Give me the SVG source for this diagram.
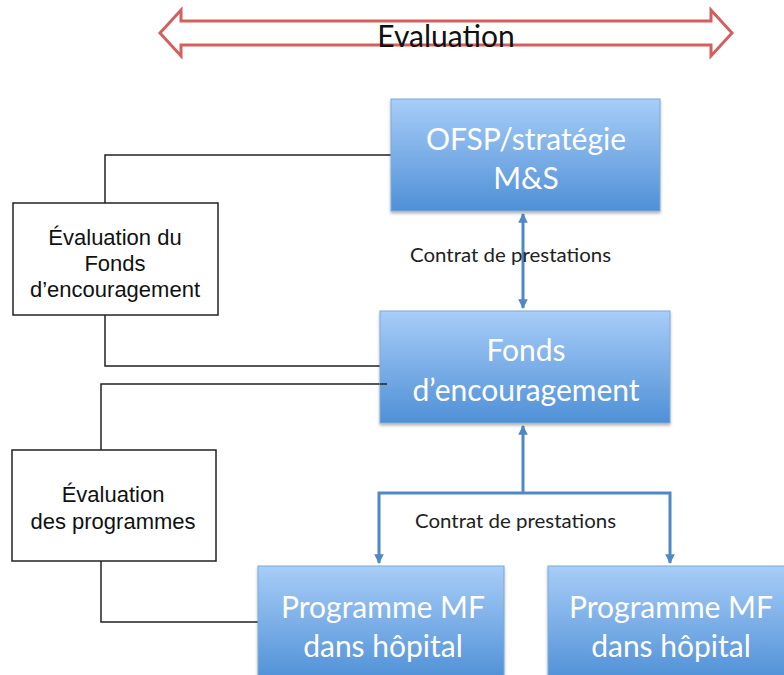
<svg xmlns="http://www.w3.org/2000/svg" width="784" height="675" viewBox="0 0 784 675">
<defs>
<linearGradient id="blue" x1="0" y1="0" x2="0" y2="1">
<stop offset="0" stop-color="#a8cdf8"/>
<stop offset="1" stop-color="#4f90d6"/>
</linearGradient>
<marker id="ah" viewBox="0 0 10 10" refX="9" refY="5" markerWidth="3.2" markerHeight="3.2" orient="auto-start-reverse" markerUnits="strokeWidth">
<path d="M0,0 L10,5 L0,10 Z" fill="#4f88c6"/>
</marker>
<filter id="sh" x="-5%" y="-5%" width="115%" height="120%">
<feDropShadow dx="0" dy="2" stdDeviation="1.5" flood-color="#000" flood-opacity="0.3"/>
</filter>
</defs>
<style>
.bx{fill:url(#blue);stroke:#7fa9d8;stroke-width:1;filter:url(#sh)}
.bt{font-family:Lato,'Open Sans',sans-serif;font-size:30px;fill:#fff;text-anchor:middle}
.wb{fill:#fff;stroke:#222;stroke-width:1.5}
.wt{font-family:'Liberation Sans',Arial,sans-serif;font-size:22px;fill:#111;text-anchor:middle}
.lbl{font-family:Lato,'Open Sans',sans-serif;font-size:18.5px;fill:#222}
.blk{fill:none;stroke:#222;stroke-width:1.5}
.bl{fill:none;stroke:#4f88c6;stroke-width:3}
</style>
<g id="evaluation-arrow">
<path d="M160,33 L181,10 L181,21 L711,21 L711,10 L732,33 L711,56 L711,45 L181,45 L181,56 Z" fill="none" stroke="#d3605c" stroke-width="3" stroke-linejoin="miter"/>
<text x="446" y="47" font-family="Lato,'Open Sans',sans-serif" font-size="30" fill="#111" text-anchor="middle">Evaluation</text>
</g>
<g id="connectors">
<polyline class="blk" points="105,203 105,155 391,155"/>
<polyline class="blk" points="105,315 105,366 380,366"/>
<polyline class="blk" points="101,450 101,384 387,384"/>
<polyline class="blk" points="101,561 101,622 258,622"/>
<line class="bl" x1="523" y1="214" x2="523" y2="308" marker-start="url(#ah)" marker-end="url(#ah)"/>
<line class="bl" x1="523" y1="493" x2="523" y2="426" marker-end="url(#ah)"/>
<polyline class="bl" points="379,563 379,493 670,493 670,563" marker-start="url(#ah)" marker-end="url(#ah)"/>
<text class="lbl" x="410" y="262" textLength="201" lengthAdjust="spacingAndGlyphs">Contrat de prestations</text>
<text class="lbl" x="415" y="528" textLength="201" lengthAdjust="spacingAndGlyphs">Contrat de prestations</text>
</g>
<g id="ofsp">
<rect class="bx" x="391" y="99" width="269" height="112"/>
<text class="bt" x="526" y="150">OFSP/stratégie</text>
<text class="bt" x="526" y="189">M&amp;S</text>
</g>
<g id="fonds">
<rect class="bx" x="380" y="311" width="290" height="112"/>
<text class="bt" x="526" y="361">Fonds</text>
<text class="bt" x="526" y="401">d’encouragement</text>
</g>
<g id="prog1">
<rect class="bx" x="258" y="566" width="246" height="115"/>
<text class="bt" x="383" y="618">Programme MF</text>
<text class="bt" x="383" y="657">dans hôpital</text>
</g>
<g id="prog2">
<rect class="bx" x="548" y="566" width="246" height="115"/>
<text class="bt" x="671" y="618">Programme MF</text>
<text class="bt" x="671" y="657">dans hôpital</text>
</g>
<g id="eval-fonds">
<rect class="wb" x="13" y="203" width="205" height="112"/>
<text class="wt" x="115" y="245">Évaluation du</text>
<text class="wt" x="115" y="271">Fonds</text>
<text class="wt" x="115" y="297">d’encouragement</text>
</g>
<g id="eval-programmes">
<rect class="wb" x="12" y="450" width="204" height="111"/>
<text class="wt" x="113" y="502">Évaluation</text>
<text class="wt" x="113" y="529">des programmes</text>
</g>
<line x1="380" y1="384" x2="387" y2="384" stroke="#222" stroke-width="1.5"/>
</svg>
